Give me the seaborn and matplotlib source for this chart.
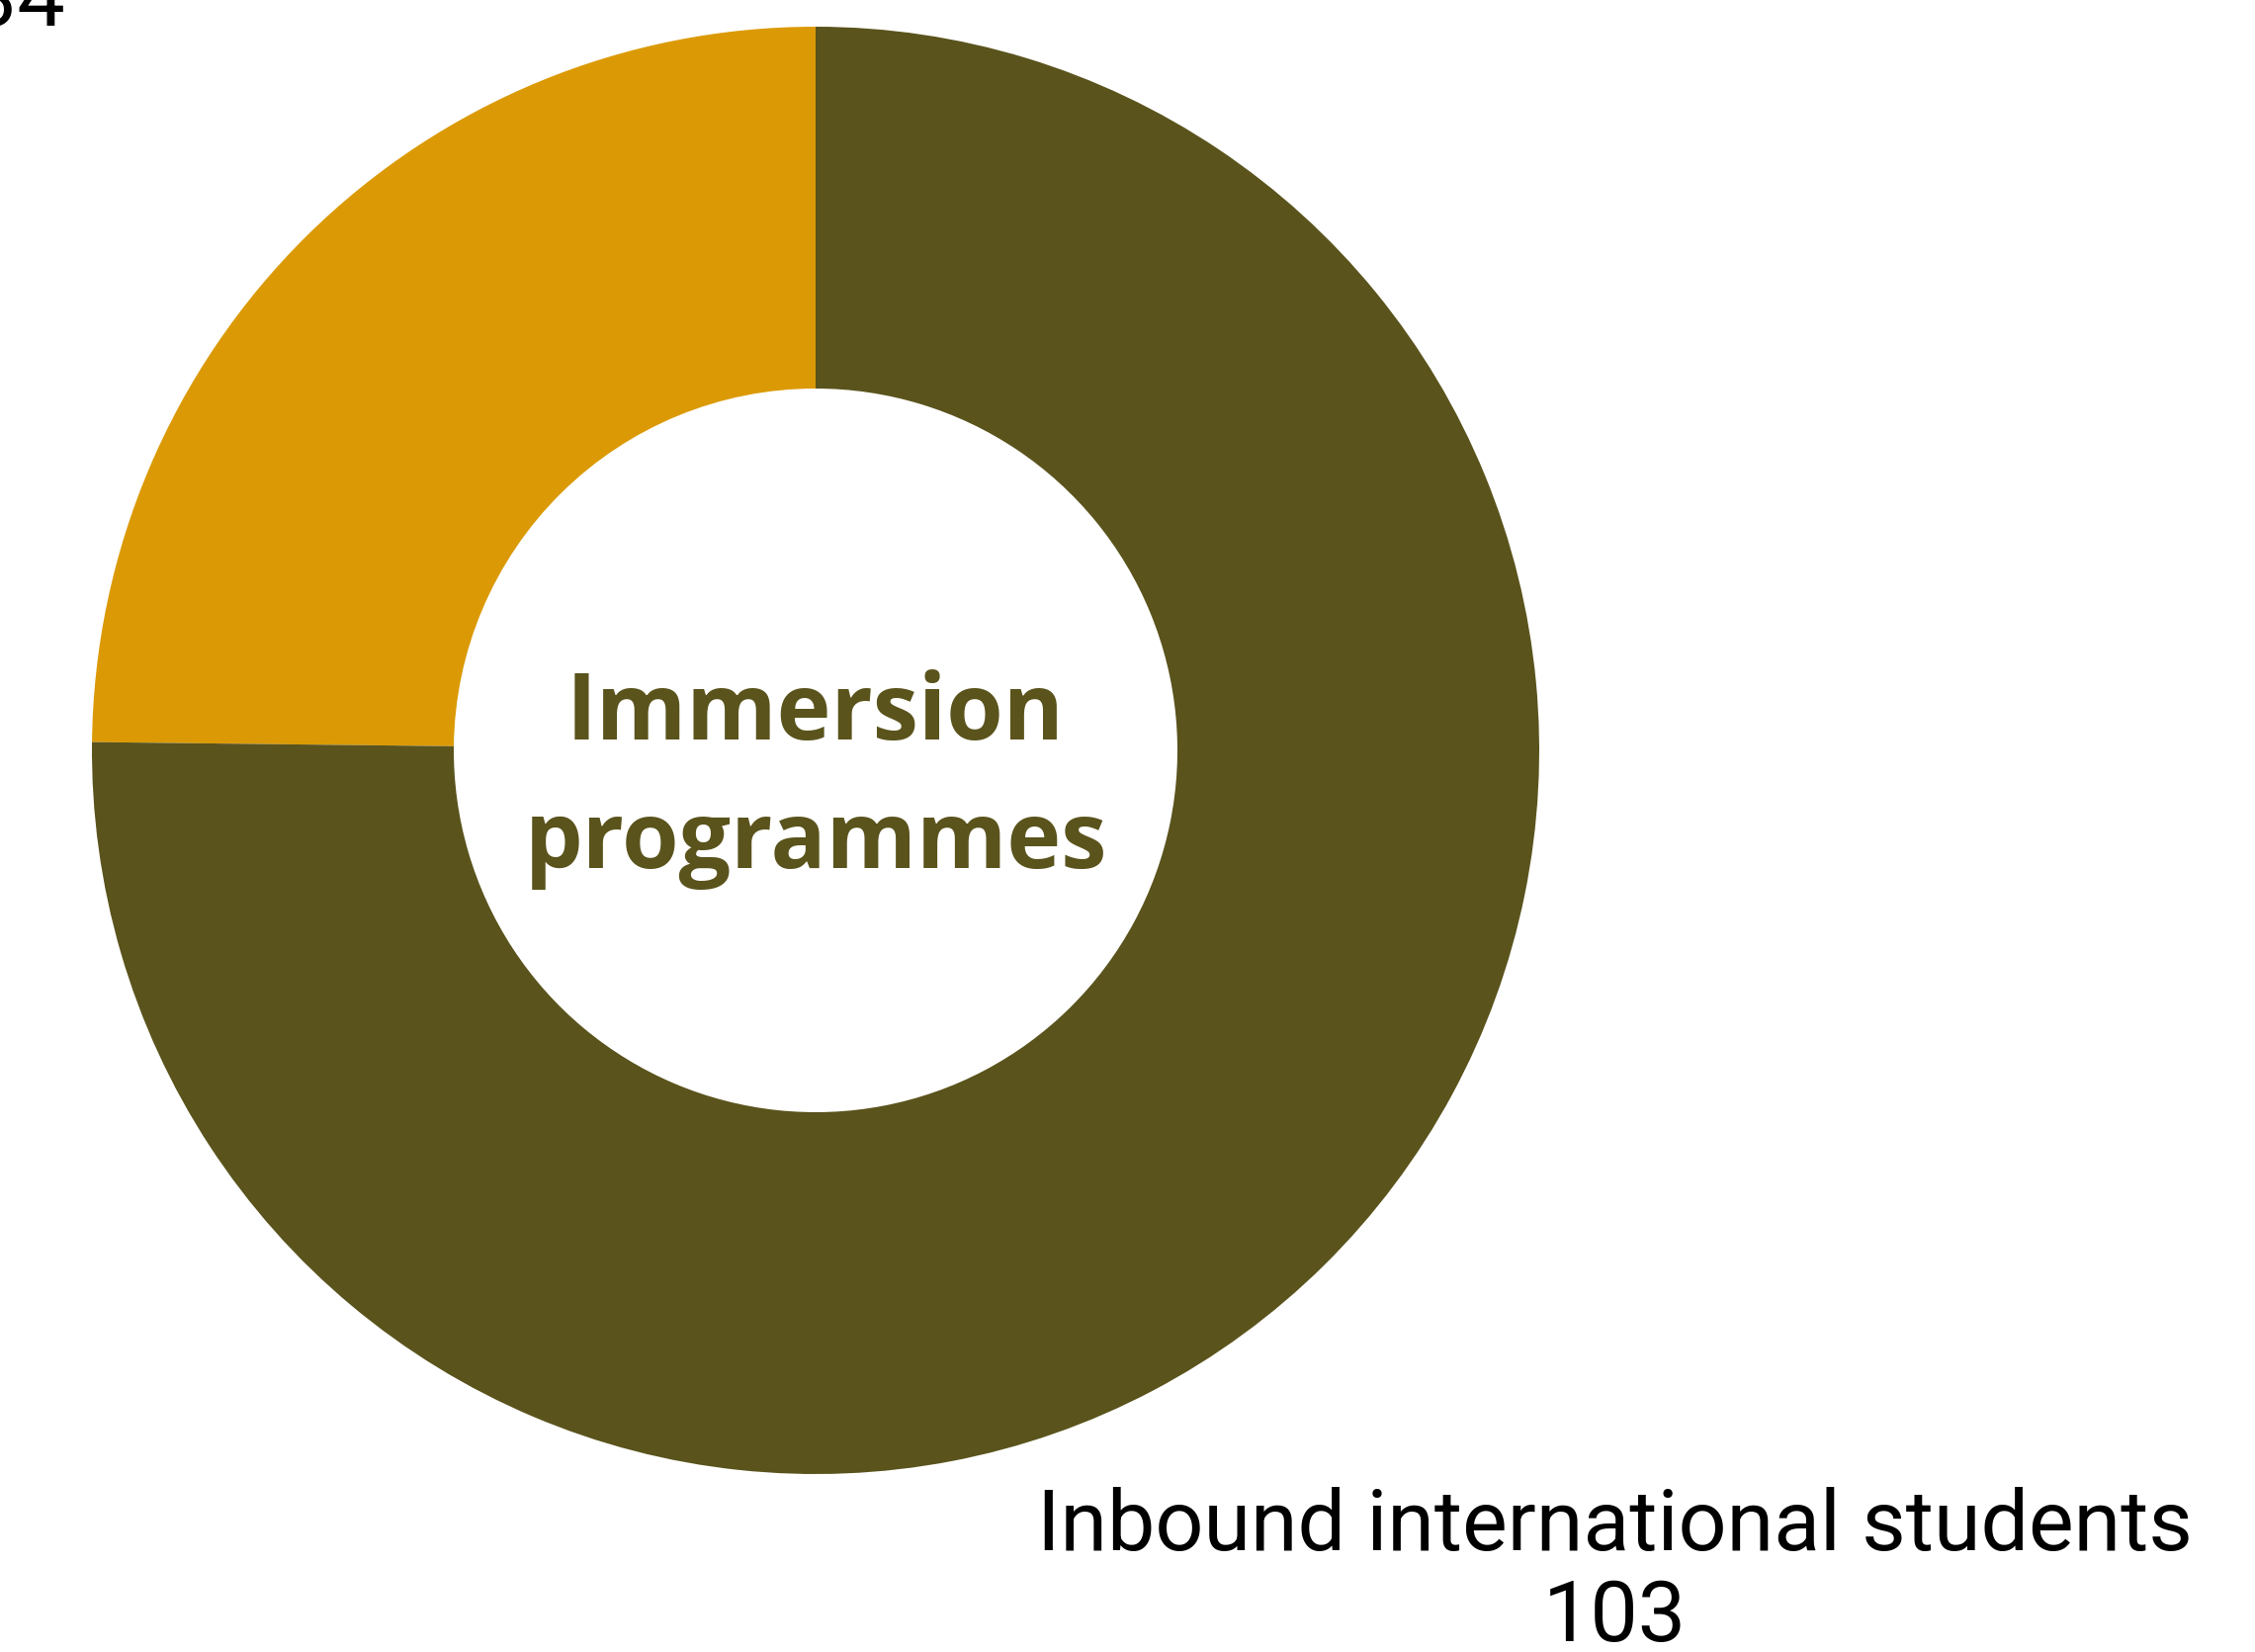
import matplotlib
matplotlib.use("Agg")
import matplotlib.pyplot as plt
import seaborn as sns

categories = ["Outbound students", "Inbound international students"]
values = [34, 103]
colors = ["#DB9A05", "#5A531C"]
center_title = "Immersion\nprogrammes"

sns.set_theme(style="white")
plt.rcParams["font.family"] = ["Roboto", "DejaVu Sans"]

fig = plt.figure(figsize=(22.81, 16.71), dpi=100)
ax = fig.add_axes([0, 0, 1, 1])

labels = [f"{c}\n{v}" for c, v in zip(categories, values)]
wedges, texts = ax.pie(
    values, labels=labels, colors=colors, startangle=90, counterclock=True,
    radius=1.0, labeldistance=1.57,
    wedgeprops=dict(width=0.5, linewidth=0),
    textprops=dict(fontsize=62, color="black"),
)
for t in texts:
    t.set_ha("center")
    t.set_va("center")
    t.set_linespacing(1.17)
    t.set_y(t.get_position()[1] - 0.02)

ax.text(0, -0.04, center_title, ha="center", va="center", fontsize=67,
        fontweight="bold", color=colors[1], linespacing=1.52,
        family=["Open Sans", "DejaVu Sans"])

ax.set_xlim(-825 / 732, (2281 - 825) / 732)
ax.set_ylim(-(1671 - 759) / 732, 759 / 732)
ax.set_aspect("auto")
ax.axis("off")

fig.savefig("out.png", dpi=100, facecolor="white")
